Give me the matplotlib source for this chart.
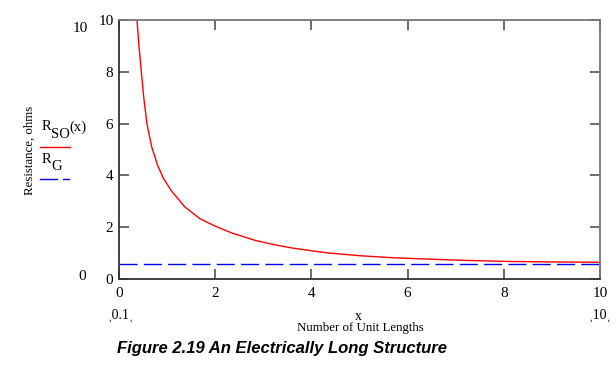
import matplotlib
matplotlib.use("Agg")
import matplotlib.pyplot as plt

# values
x_vals = [0.374, 0.415, 0.464, 0.515, 0.58, 0.68, 0.80, 0.92, 1.09, 1.37,
          1.68, 2.0, 2.34, 2.83, 3.24, 3.62, 4.32, 5.0, 5.7, 6.4, 7.0,
          8.0, 9.0, 10.0]
r_so = [10.0, 9.0, 8.0, 7.0, 6.0, 5.1, 4.4, 3.9, 3.40, 2.78, 2.33, 2.04,
        1.78, 1.49, 1.32, 1.19, 1.01, 0.90, 0.82, 0.77, 0.73, 0.68, 0.66,
        0.645]
r_g_x = [0.0, 10.0]
r_g = [0.56, 0.56]
x_ticks = [0, 2, 4, 6, 8, 10]
y_ticks = [0, 2, 4, 6, 8, 10]

serif = ["Liberation Serif", "DejaVu Serif"]
plt.rcParams["font.family"] = serif

fig = plt.figure(figsize=(6.16, 3.73), dpi=100)
ax = fig.add_axes([119 / 616, 1 - 279 / 373, 481 / 616, 259 / 373])

ax.plot(x_vals, r_so, color="red", lw=1.0)
ax.plot(r_g_x, r_g, color="blue", lw=1.0, dashes=(13, 4.5))

ax.set_xlim(0, 10)
ax.set_ylim(0, 10)
ax.set_xticks(x_ticks)
ax.set_yticks(y_ticks)
ax.tick_params(direction="in", length=7, width=1.1, color="#444444",
               top=True, right=True, labelsize=11, pad=4)
ax.tick_params(axis="x", pad=6)
for s in ["left", "bottom"]:
    ax.spines[s].set_color("#333333")
    ax.spines[s].set_linewidth(1.3)
for s in ["top", "right"]:
    ax.spines[s].set_color("#777777")
    ax.spines[s].set_linewidth(1.3)

# Mathcad-style range labels
fig.text(80 / 616, 1 - 28 / 373, "10", ha="center", va="center", fontsize=11)
fig.text(82 / 616, 1 - 276 / 373, "0", ha="center", va="center", fontsize=11)
fig.text(120 / 616, 1 - 316 / 373, "ˌ0.1ˌ", ha="center", va="center", fontsize=10)
fig.text(600 / 616, 1 - 316 / 373, "ˌ10ˌ", ha="center", va="center", fontsize=10)

fig.text(358 / 616, 1 - 316 / 373, "x", ha="center", va="center", fontsize=10)
fig.text(360 / 616, 1 - 328 / 373, "Number of Unit Lengths", ha="center",
         va="center", fontsize=9.3)
fig.text(30 / 616, 1 - 150 / 373, "Resistance, ohms", ha="center", va="center",
         rotation=90, fontsize=9.3)

# legend, drawn by hand
fig.text(42 / 616, 1 - 127 / 373, "R", ha="left", va="center", fontsize=10.5)
fig.text(51 / 616, 1 - 134 / 373, "SO", ha="left", va="center", fontsize=10.5)
fig.text(69 / 616, 1 - 127 / 373, "(x)", ha="left", va="center", fontsize=10.5)
fig.add_artist(plt.Line2D([40 / 616, 70 / 616], [1 - 147 / 373, 1 - 147 / 373],
                          color="red", lw=1.0))
fig.text(42 / 616, 1 - 159 / 373, "R", ha="left", va="center", fontsize=10.5)
fig.text(51 / 616, 1 - 166 / 373, "G", ha="left", va="center", fontsize=10.5)
fig.add_artist(plt.Line2D([40 / 616, 57 / 616], [1 - 179 / 373, 1 - 179 / 373],
                          color="blue", lw=1.0))
fig.add_artist(plt.Line2D([63 / 616, 69 / 616], [1 - 179 / 373, 1 - 179 / 373],
                          color="blue", lw=1.0))

fig.text(282 / 616, 1 - 349 / 373, "Figure 2.19 An Electrically Long Structure",
         ha="center", va="center", fontsize=12, fontweight="bold",
         fontstyle="italic", family=["Liberation Sans", "DejaVu Sans"])

fig.savefig("out.png", dpi=100)
